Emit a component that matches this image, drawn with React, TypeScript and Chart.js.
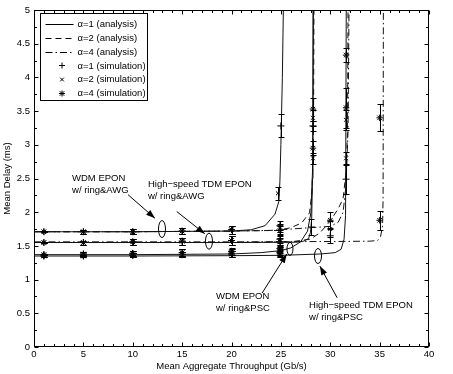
import React, { useEffect, useRef } from 'react';
import { Chart, registerables } from 'chart.js';

Chart.register(...registerables);

const FONT = '"Liberation Sans", Arial, Helvetica, sans-serif';

// ---------- axis ticks ----------
const xTickValues = [0, 5, 10, 15, 20, 25, 30, 35, 40];
const yTickValues = [0, 0.5, 1, 1.5, 2, 2.5, 3, 3.5, 4, 4.5, 5];

// ---------- analysis curves ----------
// alpha = 1 (solid)
const wdmAwgA1X = [0, 10, 20, 22, 23.4, 24.4, 24.8, 24.9, 25.0, 25.15, 25.25, 25.3];
const wdmAwgA1Y = [1.71, 1.71, 1.72, 1.74, 1.80, 1.97, 2.16, 2.45, 3.0, 4.0, 5.0, 5.3];
const tdmAwgA1X = [0, 10, 20, 26.5, 27.3, 27.8, 28.0, 28.12, 28.2, 28.25, 28.27];
const tdmAwgA1Y = [1.55, 1.55, 1.55, 1.555, 1.57, 1.61, 1.70, 1.9, 2.5, 5.0, 5.3];
const wdmPscA1X = [0, 10, 15, 20, 23, 25, 26, 27, 27.7, 28.05, 28.2, 28.3, 28.32];
const wdmPscA1Y = [1.37, 1.37, 1.375, 1.38, 1.40, 1.43, 1.47, 1.56, 1.72, 2.0, 2.6, 5.0, 5.3];
const tdmPscA1X = [0, 10, 20, 25, 29, 30.5, 31.1, 31.4, 31.55, 31.62, 31.65];
const tdmPscA1Y = [1.35, 1.35, 1.355, 1.36, 1.38, 1.40, 1.45, 1.6, 1.95, 5.0, 5.3];
// alpha = 2 (dashed)
const wdmAwgA2X = [0, 10, 20, 24.7, 26, 27.1, 27.9, 28.15, 28.3, 28.35, 28.37];
const wdmAwgA2Y = [1.71, 1.71, 1.72, 1.73, 1.77, 1.84, 1.99, 2.3, 3.0, 5.0, 5.3];
const tdmAwgA2X = [0, 10, 20, 26, 28, 29, 30, 30.8, 31.3, 31.6, 31.75, 31.8, 31.82];
const tdmAwgA2Y = [1.55, 1.55, 1.55, 1.56, 1.6, 1.7, 1.87, 2.05, 2.2, 2.6, 3.2, 5.0, 5.3];
// alpha = 4 (dash-dot)
const wdmAwgA4X = [0, 10, 20, 24, 26, 28, 30, 30.8, 31.3, 31.6, 31.8, 31.9, 31.92];
const wdmAwgA4Y = [1.71, 1.71, 1.72, 1.73, 1.75, 1.77, 1.79, 1.85, 2.0, 2.4, 3.2, 5.0, 5.3];
const tdmAwgA4X = [0, 10, 20, 30, 34, 34.8, 35.1, 35.3, 35.35, 35.38, 35.4];
const tdmAwgA4Y = [1.56, 1.56, 1.56, 1.565, 1.57, 1.58, 1.64, 1.8, 2.2, 5.0, 5.3];

// ---------- simulation points (value, error half-length) ----------
const simA1X = [1, 5, 10, 15, 20, 24.9, 1, 5, 10, 15, 20, 24.9, 1, 5, 10, 15, 20, 24.9, 1, 5, 10, 15, 20, 24.9, 25.0, 28.1, 28.25, 30, 31.6];
const simA1Y = [1.71, 1.71, 1.71, 1.72, 1.74, 1.80, 1.55, 1.55, 1.56, 1.57, 1.58, 1.60, 1.37, 1.38, 1.39, 1.40, 1.42, 1.46, 1.35, 1.35, 1.36, 1.37, 1.38, 1.40, 3.28, 1.78, 3.28, 1.65, 2.49];
const simA1E = [0.01, 0.03, 0.04, 0.05, 0.06, 0.07, 0.01, 0.03, 0.04, 0.05, 0.06, 0.06, 0.01, 0.03, 0.04, 0.05, 0.05, 0.06, 0.01, 0.02, 0.03, 0.04, 0.05, 0.05, 0.17, 0.12, 0.08, 0.1, 0.22];
const simA2X = [1, 5, 10, 15, 20, 24.9, 1, 5, 10, 15, 20, 24.9, 1, 5, 10, 15, 20, 24.9, 1, 5, 10, 15, 20, 24.9, 24.7, 28.25, 28.25, 30, 31.6, 31.6];
const simA2Y = [1.71, 1.71, 1.71, 1.72, 1.74, 1.76, 1.55, 1.55, 1.56, 1.57, 1.58, 1.58, 1.37, 1.38, 1.39, 1.40, 1.41, 1.43, 1.35, 1.35, 1.36, 1.37, 1.38, 1.39, 2.28, 3.4, 2.8, 1.75, 3.37, 2.8];
const simA2E = [0.01, 0.03, 0.04, 0.05, 0.06, 0.06, 0.01, 0.03, 0.04, 0.05, 0.06, 0.06, 0.01, 0.03, 0.04, 0.05, 0.05, 0.06, 0.01, 0.02, 0.03, 0.04, 0.05, 0.05, 0.1, 0.12, 0.08, 0.12, 0.15, 0.1];
const simA4X = [1, 5, 10, 15, 20, 24.9, 1, 5, 10, 15, 20, 24.9, 1, 5, 10, 15, 20, 24.9, 1, 5, 10, 15, 20, 24.9, 28.25, 28.25, 30, 31.6, 31.6, 35, 35];
const simA4Y = [1.71, 1.71, 1.71, 1.72, 1.74, 1.73, 1.55, 1.55, 1.56, 1.57, 1.58, 1.56, 1.37, 1.38, 1.39, 1.40, 1.41, 1.42, 1.35, 1.35, 1.36, 1.37, 1.38, 1.38, 3.53, 2.95, 1.88, 4.33, 3.55, 3.4, 1.88];
const simA4E = [0.01, 0.03, 0.04, 0.05, 0.06, 0.06, 0.01, 0.03, 0.04, 0.05, 0.06, 0.06, 0.01, 0.03, 0.04, 0.05, 0.05, 0.06, 0.01, 0.02, 0.03, 0.04, 0.05, 0.05, 0.17, 0.1, 0.12, 0.1, 0.3, 0.2, 0.14];

// ---------- legend & annotations ----------
const legendLabels = ['α=1 (analysis)', 'α=2 (analysis)', 'α=4 (analysis)', 'α=1 (simulation)', 'α=2 (simulation)', 'α=4 (simulation)'];
const DASH: number[] = [6, 4];
const DASHDOT: number[] = [7, 3, 1.5, 3];

const annotations = [
  { lines: ['WDM EPON', 'w/ ring&AWG'], tx: 3.85, ty: 2.5, from: [9.52, 2.26], to: [12.25, 1.91], ell: [12.96, 1.75], rx: 3.5, ry: 8.5 },
  { lines: ['High\u2212speed TDM EPON', 'w/ ring&AWG'], tx: 11.54, ty: 2.41, from: [14.45, 2.01], to: [17.3, 1.68], ell: [17.72, 1.57], rx: 3.5, ry: 8 },
  { lines: ['WDM EPON', 'w/ ring&PSC'], tx: 18.43, ty: 0.748, from: [23.1, 0.80], to: [25.6, 1.38], ell: [25.92, 1.456], rx: 3, ry: 6.5 },
  { lines: ['High\u2212speed TDM EPON', 'w/ ring&PSC'], tx: 27.85, ty: 0.615, from: [30.7, 0.73], to: [28.95, 1.2], ell: [28.76, 1.35], rx: 3.5, ry: 7.5 },
];

function xy(xs: number[], ys: number[]) {
  return xs.map((x, i) => ({ x, y: ys[i] }));
}
function xye(xs: number[], ys: number[], es: number[]) {
  return xs.map((x, i) => ({ x, y: ys[i], e: es[i] }));
}

function lineDs(xs: number[], ys: number[], dash: number[]) {
  return {
    type: 'scatter' as const,
    data: xy(xs, ys),
    showLine: true,
    borderColor: '#111',
    borderWidth: 1,
    borderDash: dash,
    pointRadius: 0,
    tension: 0,
    errorBars: false,
  };
}
function simDs(xs: number[], ys: number[], es: number[], style: string, r: number) {
  return {
    type: 'scatter' as const,
    data: xye(xs, ys, es),
    showLine: false,
    pointStyle: style,
    pointRadius: r,
    borderColor: '#000',
    backgroundColor: '#000',
    pointBorderWidth: 1,
    errorBars: true,
  };
}

function drawMarker(ctx: CanvasRenderingContext2D, kind: number, x: number, y: number, r: number) {
  ctx.beginPath();
  if (kind === 0 || kind === 2) {
    ctx.moveTo(x - r, y); ctx.lineTo(x + r, y);
    ctx.moveTo(x, y - r); ctx.lineTo(x, y + r);
  }
  if (kind === 1 || kind === 2) {
    const d = r * 0.75;
    ctx.moveTo(x - d, y - d); ctx.lineTo(x + d, y + d);
    ctx.moveTo(x - d, y + d); ctx.lineTo(x + d, y - d);
  }
  ctx.stroke();
}

const errorBarPlugin = {
  id: 'errorBars',
  afterDatasetsDraw(chart: any) {
    const ctx = chart.ctx as CanvasRenderingContext2D;
    const xs = chart.scales.x, ys = chart.scales.y;
    ctx.save();
    ctx.strokeStyle = '#000';
    ctx.lineWidth = 1;
    chart.data.datasets.forEach((ds: any) => {
      if (!ds.errorBars) return;
      ds.data.forEach((p: any) => {
        const px = Math.round(xs.getPixelForValue(p.x)) + 0.5;
        const y1 = Math.round(ys.getPixelForValue(p.y + p.e)) + 0.5;
        const y2 = Math.round(ys.getPixelForValue(p.y - p.e)) + 0.5;
        ctx.beginPath();
        ctx.moveTo(px, y1); ctx.lineTo(px, y2);
        ctx.moveTo(px - 3, y1); ctx.lineTo(px + 3, y1);
        ctx.moveTo(px - 3, y2); ctx.lineTo(px + 3, y2);
        ctx.stroke();
      });
    });
    ctx.restore();
  },
};

const framePlugin = {
  id: 'frame',
  afterDraw(chart: any) {
    const ctx = chart.ctx as CanvasRenderingContext2D;
    const { left, right, top, bottom } = chart.chartArea;
    const xs = chart.scales.x, ys = chart.scales.y;
    ctx.save();
    ctx.strokeStyle = '#000';
    ctx.lineWidth = 1;
    const L = Math.round(left) + 0.5, R = Math.round(right) - 0.5, T = Math.round(top) + 0.5, B = Math.round(bottom) - 0.5;
    ctx.strokeRect(L, T, R - L, B - T);
    ctx.beginPath();
    for (let v = 0; v <= 40; v += 1) {
      const px = Math.round(xs.getPixelForValue(v)) + 0.5;
      const len = v % 5 === 0 ? 4 : 2.5;
      ctx.moveTo(px, B); ctx.lineTo(px, B - len);
      ctx.moveTo(px, T); ctx.lineTo(px, T + len);
    }
    for (let i = 0; i <= 20; i++) {
      const v = i * 0.25;
      const py = Math.round(ys.getPixelForValue(v)) + 0.5;
      const len = i % 2 === 0 ? 4 : 2.5;
      ctx.moveTo(L, py); ctx.lineTo(L + len, py);
      ctx.moveTo(R, py); ctx.lineTo(R - len, py);
    }
    ctx.stroke();

    // annotations
    ctx.font = `9.5px ${FONT}`;
    ctx.fillStyle = '#000';
    ctx.textBaseline = 'middle';
    ctx.textAlign = 'left';
    annotations.forEach((a) => {
      const tx = xs.getPixelForValue(a.tx), ty = ys.getPixelForValue(a.ty);
      a.lines.forEach((ln, i) => ctx.fillText(ln, tx, ty + i * 11.5));
      const fx = xs.getPixelForValue(a.from[0]), fy = ys.getPixelForValue(a.from[1]);
      const tox = xs.getPixelForValue(a.to[0]), toy = ys.getPixelForValue(a.to[1]);
      ctx.beginPath();
      ctx.moveTo(fx, fy); ctx.lineTo(tox, toy);
      ctx.stroke();
      const ang = Math.atan2(toy - fy, tox - fx);
      const hl = 9, hw = 3.2;
      ctx.beginPath();
      ctx.moveTo(tox, toy);
      ctx.lineTo(tox - hl * Math.cos(ang) + hw * Math.sin(ang), toy - hl * Math.sin(ang) - hw * Math.cos(ang));
      ctx.lineTo(tox - hl * Math.cos(ang) - hw * Math.sin(ang), toy - hl * Math.sin(ang) + hw * Math.cos(ang));
      ctx.closePath();
      ctx.fill();
      const ex = xs.getPixelForValue(a.ell[0]), ey = ys.getPixelForValue(a.ell[1]);
      ctx.beginPath();
      ctx.ellipse(ex, ey, a.rx, a.ry, 0, 0, Math.PI * 2);
      ctx.stroke();
    });

    // legend box
    const bx = Math.round(left) + 6.5, by = Math.round(top) + 3.5, bw = 107, bh = 87;
    ctx.fillStyle = '#fff';
    ctx.fillRect(bx, by, bw, bh);
    ctx.strokeRect(bx, by, bw, bh);
    ctx.fillStyle = '#000';
    ctx.font = `9.5px ${FONT}`;
    const dashes = [[], DASH, DASHDOT];
    legendLabels.forEach((lab, i) => {
      const ry = by + 10.5 + i * 13.8;
      if (i < 3) {
        ctx.save();
        ctx.setLineDash(dashes[i]);
        ctx.beginPath();
        ctx.moveTo(bx + 5, Math.round(ry) + 0.5);
        ctx.lineTo(bx + 33, Math.round(ry) + 0.5);
        ctx.stroke();
        ctx.restore();
      } else {
        drawMarker(ctx, i - 3, bx + 21.5, Math.round(ry) + 0.5, i === 4 ? 2.5 : 3);
      }
      ctx.fillText(lab, bx + 37, ry + 0.5);
    });
    ctx.restore();
  },
};

export default function App() {
  const ref = useRef<HTMLCanvasElement>(null);
  useEffect(() => {
    Chart.defaults.color = '#000';
    Chart.defaults.font.family = FONT;
    const chart = new Chart(ref.current as HTMLCanvasElement, {
      type: 'scatter',
      data: {
        datasets: [
          lineDs(wdmAwgA1X, wdmAwgA1Y, []),
          lineDs(tdmAwgA1X, tdmAwgA1Y, []),
          lineDs(wdmPscA1X, wdmPscA1Y, []),
          lineDs(tdmPscA1X, tdmPscA1Y, []),
          lineDs(wdmAwgA2X, wdmAwgA2Y, DASH),
          lineDs(tdmAwgA2X, tdmAwgA2Y, DASH),
          lineDs(wdmAwgA4X, wdmAwgA4Y, DASHDOT),
          lineDs(tdmAwgA4X, tdmAwgA4Y, DASHDOT),
          simDs(simA1X, simA1Y, simA1E, 'cross', 3.5),
          simDs(simA2X, simA2Y, simA2E, 'crossRot', 2.8),
          simDs(simA4X, simA4Y, simA4E, 'star', 3.2),
        ] as any,
      },
      options: {
        responsive: false,
        animation: false,
        devicePixelRatio: 1,
        layout: { padding: { top: 10, right: 24, left: 0, bottom: 0 } },
        plugins: { legend: { display: false }, tooltip: { enabled: false } },
        scales: {
          x: {
            type: 'linear',
            min: 0,
            max: 40,
            afterFit: (s: any) => { s.height = 27; },
            afterBuildTicks: (s: any) => { s.ticks = xTickValues.map((v) => ({ value: v })); },
            grid: { display: false, drawTicks: false, tickLength: 0 },
            border: { display: false },
            ticks: { font: { size: 9.5, family: FONT }, padding: 2, maxRotation: 0, callback: (v: any) => String(v) },
            title: { display: true, text: 'Mean Aggregate Throughput (Gb/s)', font: { size: 9.5, family: FONT }, padding: { top: 0, bottom: 2 } },
          },
          y: {
            type: 'linear',
            min: 0,
            max: 5,
            afterFit: (s: any) => { s.width = 34; },
            afterBuildTicks: (s: any) => { s.ticks = yTickValues.map((v) => ({ value: v })); },
            grid: { display: false, drawTicks: false, tickLength: 0 },
            border: { display: false },
            ticks: { font: { size: 9.5, family: FONT }, padding: 4, callback: (v: any) => String(v) },
            title: { display: true, text: 'Mean Delay (ms)', font: { size: 9.5, family: FONT }, padding: { top: 2, bottom: 0 } },
          },
        },
      },
      plugins: [errorBarPlugin, framePlugin],
    } as any);
    return () => chart.destroy();
  }, []);
  return (
    <div style={{ position: 'absolute', left: 0, top: 0, width: 453, height: 374, background: '#fff' }}>
      <canvas ref={ref} width={453} height={374} style={{ display: 'block' }} />
    </div>
  );
}
